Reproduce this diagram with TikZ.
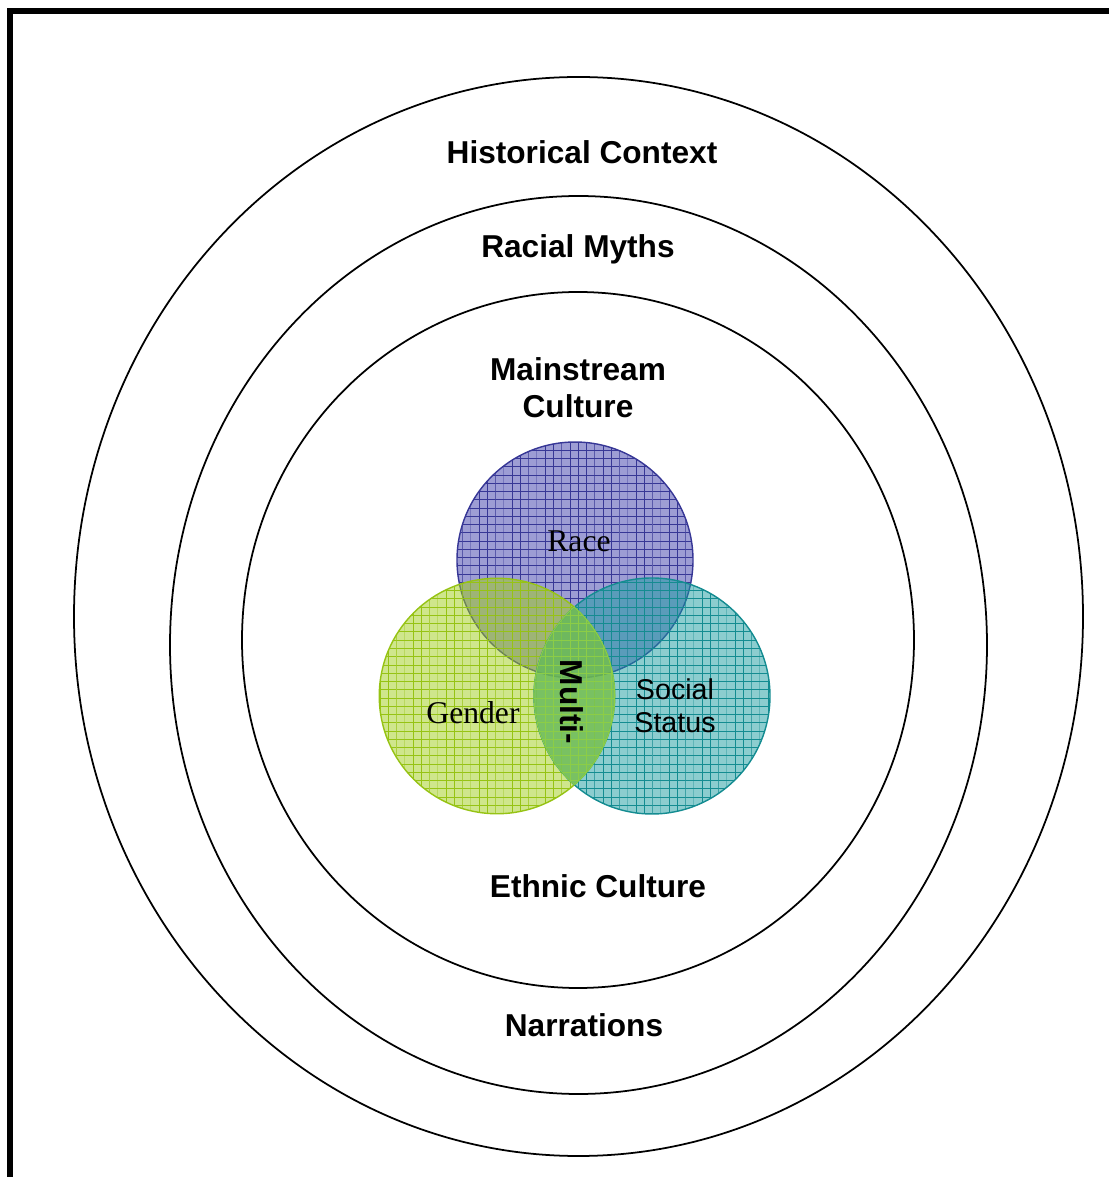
\documentclass[tikz,border=0pt]{standalone}
\usepackage{fontspec}
\setmainfont{Liberation Serif}
\setsansfont{Liberation Sans}
\usepackage{xcolor}
\usetikzlibrary{patterns.meta}

\definecolor{raceblue}{RGB}{60,60,170}
\definecolor{raceline}{RGB}{55,55,150}
\definecolor{gendergreen}{RGB}{160,205,25}
\definecolor{genderline}{RGB}{150,195,20}
\definecolor{statusteal}{RGB}{25,155,160}
\definecolor{statusline}{RGB}{20,140,145}
\definecolor{multigreen}{RGB}{125,195,65}
\definecolor{multiline}{RGB}{140,205,70}

% fine mesh laid over the circles
\tikzdeclarepattern{
  name=mesh,
  type=uncolored,
  bottom left={(-.1pt,-.1pt)},
  top right={(4.8pt,4.8pt)},
  tile size={(4.7pt,4.7pt)},
  code={
    \draw[line width=.45pt] (0,0) -- (4.7pt,0) (0,0) -- (0,4.7pt);
  }
}

\begin{document}
\begin{tikzpicture}[
    ring/.style={font=\sffamily\bfseries\fontsize{18}{21}\selectfont, align=center},
    venn/.style 2 args={fill=#1, fill opacity=.5, draw=#2, line width=.8pt,
      postaction={pattern=mesh, pattern color=#2, fill opacity=.5}},
  ]
  \useasboundingbox (0,0) rectangle (22.18,23.54);
  % Frame
  \draw[line width=0.12cm] (0.206,-1) -- (0.206,23.31) -- (23,23.31);
  % Rings
  \draw[line width=1pt] (11.57,11.21) ellipse [x radius=10.09, y radius=10.79];
  \draw[line width=1pt] (11.57,10.64) ellipse [x radius=8.17, y radius=8.98];
  \draw[line width=1pt] (11.56,10.74) ellipse [x radius=6.72, y radius=6.96];
  \node[ring] (hist) at (11.64,20.50) {Historical Context};
  \node[ring] (myths) at (11.56,18.56) {Racial Myths};
  \node[ring] (main) at (11.56,15.78) {Mainstream\\Culture};
  \node[ring] (ethnic) at (11.96,5.82) {Ethnic Culture};
  \node[ring] (narr) at (11.68,3.04) {Narrations};
  % Venn
  \coordinate (rc) at (11.50,12.34);
  \coordinate (gc) at (9.94,9.62);
  \coordinate (sc) at (13.04,9.62);
  \path[venn={raceblue}{raceline}] (rc) circle (2.36);
  \path[venn={gendergreen}{genderline}] (gc) circle (2.355);
  \path[venn={statusteal}{statusline}] (sc) circle (2.36);
  \path[venn={multigreen}{multiline}, fill opacity=.6, line width=.6pt]
    (gc) ++(48.9:2.355) arc[start angle=48.9, end angle=-48.9, radius=2.355]
    arc[start angle=228.9, end angle=131.1, radius=2.36] -- cycle;
  \node[font=\fontsize{18}{21}\selectfont] (race) at (11.58,12.72) {Race};
  \node[font=\fontsize{18}{21}\selectfont] (gender) at (9.46,9.28) {Gender};
  \node[font=\sffamily\fontsize{16.3}{19}\selectfont, align=center] (status) at (13.50,9.42) {Social\\Status};
  \node[ring, rotate=-90] (multi) at (11.44,9.50) {Multi-};
\end{tikzpicture}
\end{document}
